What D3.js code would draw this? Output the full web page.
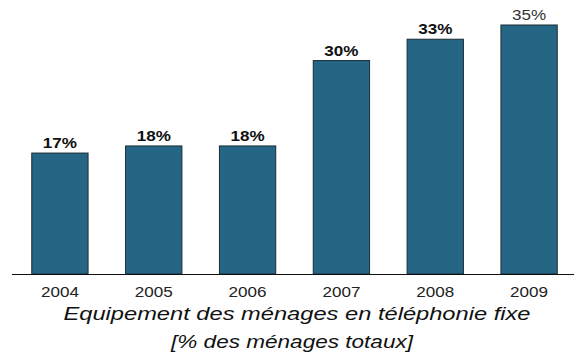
<!DOCTYPE html>
<html>
<head>
<meta charset="utf-8">
<script src="https://cdn.jsdelivr.net/npm/d3@7"></script>
<style>
  html, body { margin: 0; padding: 0; background: #ffffff; }
  svg { display: block; font-family: Arial, "Liberation Sans", sans-serif; }
</style>
</head>
<body>
<svg id="chart" width="574" height="354"></svg>
<script>
// Household fixed-line telephone equipment, share of all households (%)
const years = ["2004", "2005", "2006", "2007", "2008", "2009"];
const values = [17, 18, 18, 30, 33, 35];
const valueLabels = ["17%", "18%", "18%", "30%", "33%", "35%"];
const titleLines = ["Equipement des ménages en téléphonie fixe", "[% des ménages totaux]"];

// Text in this layout is set slightly wide
const stretch = 1.22;
const titleStretch = [1.28, 1.22];
const titleCenter = [297, 292];

const svg = d3.select("#chart");

const x = d3.scaleBand()
  .domain(years)
  .range([13, 576])
  .paddingInner(0.4)
  .paddingOuter(0.2);

const y = d3.scaleLinear()
  .domain([0, 35])
  .range([274, 25]);

// Bars
svg.append("g")
  .selectAll("rect")
  .data(years)
  .join("rect")
  .attr("x", d => x(d))
  .attr("y", (d, i) => y(values[i]))
  .attr("width", x.bandwidth())
  .attr("height", (d, i) => y(0) - y(values[i]))
  .attr("fill", "#246683")
  .attr("stroke", "#1b2b35")
  .attr("stroke-width", 1);

// Value labels above bars
svg.append("g")
  .selectAll("text")
  .data(years)
  .join("text")
  .attr("transform", (d, i) =>
    `translate(${x(d) + x.bandwidth() / 2},${y(values[i]) - 5}) scale(${stretch},1)`)
  .attr("text-anchor", "middle")
  .attr("font-size", 14)
  .attr("font-weight", (d, i) => i === years.length - 1 ? "normal" : "bold")
  .attr("fill", (d, i) => i === years.length - 1 ? "#333333" : "#111111")
  .text((d, i) => valueLabels[i]);

// Category axis
const axis = svg.append("g")
  .attr("transform", `translate(0,${y(0)})`)
  .call(d3.axisBottom(x).tickSize(0).tickPadding(0));
axis.select(".domain").remove();
axis.selectAll("text")
  .attr("y", 23)
  .attr("dy", null)
  .attr("transform", `scale(${stretch},1)`)
  .attr("font-size", 14)
  .attr("font-family", "Arial, 'Liberation Sans', sans-serif")
  .attr("fill", "#222222");

svg.append("line")
  .attr("x1", 12)
  .attr("x2", 574)
  .attr("y1", y(0) + 0.5)
  .attr("y2", y(0) + 0.5)
  .attr("stroke", "#111111")
  .attr("stroke-width", 1.2);

// Title below the axis
svg.append("g")
  .selectAll("text")
  .data(titleLines)
  .join("text")
  .attr("transform", (d, i) =>
    `translate(${titleCenter[i]},${319.5 + i * 28.5}) scale(${titleStretch[i]},1)`)
  .attr("text-anchor", "middle")
  .attr("font-size", 18.5)
  .attr("font-style", "italic")
  .attr("fill", "#111111")
  .text(d => d);
</script>
</body>
</html>
